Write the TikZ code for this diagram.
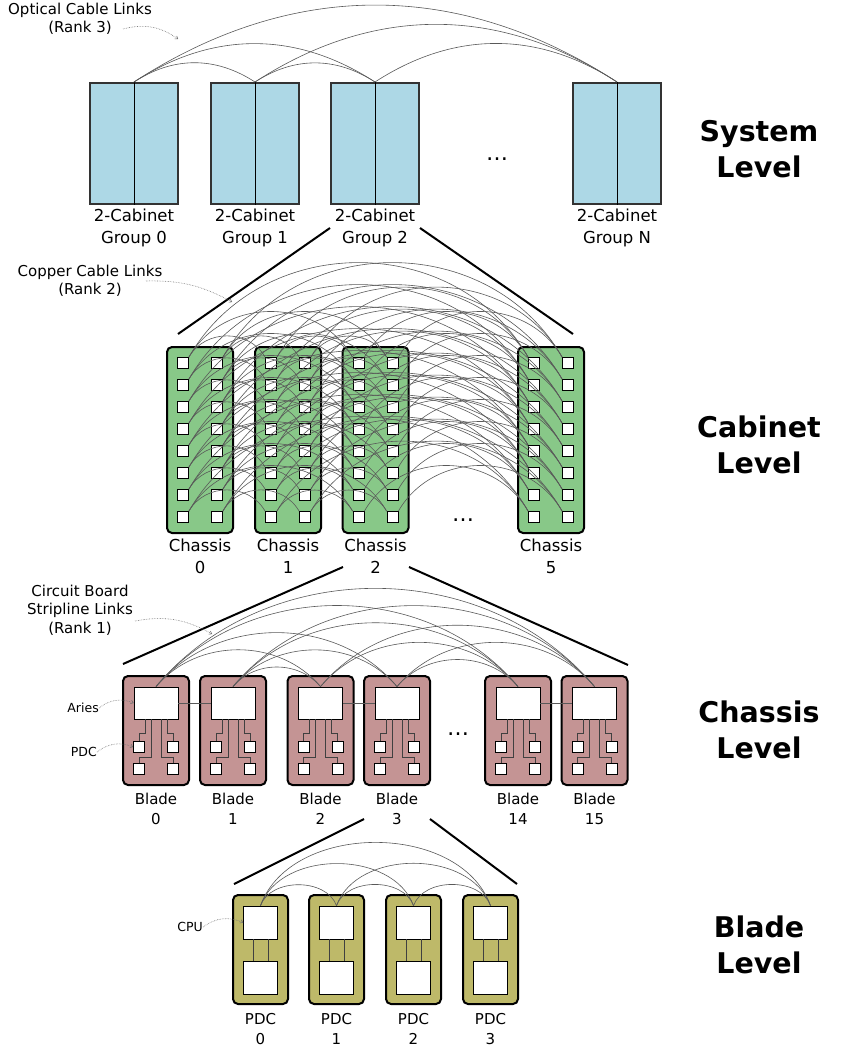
\documentclass[tikz,border=0pt]{standalone}
\usepackage{fontspec}
\setmainfont{DejaVu Sans}
\usepackage{tikz}
\usetikzlibrary{arrows.meta, positioning}
\definecolor{cabblue}{RGB}{173,216,230}
\definecolor{chgreen}{RGB}{136,200,136}
\definecolor{bladerose}{RGB}{196,148,148}
\definecolor{pdcolive}{RGB}{190,185,105}
\tikzstyle{cabgroup} = [rectangle, minimum width=88pt, minimum height=121pt, inner sep=0pt, draw=black!80, line width=2pt, fill=cabblue]
\tikzstyle{chassis} = [rectangle, rounded corners=5pt, minimum width=66pt, minimum height=186pt, inner sep=0pt, draw=black, line width=2pt, fill=chgreen]
\tikzstyle{port} = [rectangle, minimum size=11pt, inner sep=0pt, draw=black, line width=0.8pt, fill=white]
\tikzstyle{blade} = [rectangle, rounded corners=5pt, minimum width=66pt, minimum height=109pt, inner sep=0pt, draw=black, line width=2pt, fill=bladerose]
\tikzstyle{aries} = [rectangle, minimum width=44pt, minimum height=32pt, inner sep=0pt, draw=black, line width=0.8pt, fill=white]
\tikzstyle{pdc} = [rectangle, rounded corners=5pt, minimum width=55pt, minimum height=109pt, inner sep=0pt, draw=black, line width=2pt, fill=pdcolive]
\tikzstyle{cpu} = [rectangle, minimum width=34pt, minimum height=33pt, inner sep=0pt, draw=black, line width=0.8pt, fill=white]
\tikzstyle{unitname} = [align=center, inner sep=0pt, font=\fontsize{16.5}{22}\selectfont]
\tikzstyle{smallname} = [align=center, inner sep=0pt, font=\fontsize{15}{20}\selectfont]
\tikzstyle{levelname} = [align=center, font=\fontsize{28.5}{36}\selectfont\bfseries]
\tikzstyle{note} = [align=center, inner sep=0pt, font=\fontsize{15}{18.5}\selectfont]
\tikzstyle{tinynote} = [inner sep=0pt, font=\fontsize{12.5}{15}\selectfont]
\tikzstyle{dots} = [inner sep=0pt, font=\fontsize{22}{22}\selectfont]
\tikzstyle{link} = [draw=black!65, line width=0.6pt]
\tikzstyle{trace} = [draw=black!75, line width=0.6pt]
\tikzstyle{zoomline} = [line width=2pt]
\tikzstyle{pointer} = [densely dotted, draw=black!55, line width=0.6pt, -{To[length=3pt,width=4pt]}]

\begin{document}
\begin{tikzpicture}[x=1pt, y=-1pt]
    \useasboundingbox (0,0) rectangle (850,1046);

    % system level
    \node (grp0) [cabgroup] at (134,143.5) {};
    \node (grp1) [cabgroup] at (255,143.5) {};
    \node (grp2) [cabgroup] at (375,143.5) {};
    \node (grpN) [cabgroup] at (617,143.5) {};
    \foreach \g in {0,1,2,N} {
        \draw [line width=0.8pt] (grp\g.north) -- (grp\g.south);
        \node (grpname\g) [unitname, below=4pt of grp\g] {2-Cabinet\\Group \g};
    }
    \node (sysdots) [dots] at (497,159) {…};
    \node (syslevel) [levelname] at (759,149) {System\\Level};

    \foreach \i/\j in {0/1,0/2,0/N,1/2,1/N,2/N}
        \draw [link] (grp\i.north) to[bend left=33] (grp\j.north);

    \node (optnote) [note] at (80,19) {Optical Cable Links\\(Rank 3)};
    \coordinate (optfrom) at (123,29);
    \coordinate (optto) at (178,39);
    \draw [pointer] (optfrom) to[bend left=25] (optto);

    \coordinate (sysL) at (330,228);
    \coordinate (sysR) at (420,228);
    \coordinate (cabL) at (178,334);
    \coordinate (cabR) at (573,334);
    \draw [zoomline] (sysL) -- (cabL);
    \draw [zoomline] (sysR) -- (cabR);

    % cabinet level
    \foreach \c/\x in {0/200,1/288,2/375.5,5/551} {
        \node (ch\c) [chassis] at (\x,440) {};
        \node (chname\c) [unitname, below=5pt of ch\c] {Chassis\\\c};
        \foreach \r in {0,...,7} {
            \node (p\c-\r-a) [port] at (\x-17,363+22*\r) {};
            \node (p\c-\r-b) [port] at (\x+17,363+22*\r) {};
        }
    }
    \node (cabdots) [dots] at (463,520) {…};
    \node (cablevel) [levelname] at (759,445) {Cabinet\\Level};

    \foreach \r in {0,...,7}
        \foreach \s in {a,b}
            \foreach \i/\j in {0/1,0/2,0/5,1/2,1/5,2/5}
                \draw [link] (p\i-\r-\s.north east) to[bend left=60, looseness=1.1] (p\j-\r-\s.north west);

    \node (copnote) [note] at (90,281) {Copper Cable Links\\(Rank 2)};
    \coordinate (copfrom) at (146,281);
    \coordinate (copto) at (232,302);
    \draw [pointer] (copfrom) to[bend left=15] (copto);

    \coordinate (cabL2) at (343,567);
    \coordinate (cabR2) at (409,567);
    \coordinate (chaL) at (123,664);
    \coordinate (chaR) at (628,665);
    \draw [zoomline] (cabL2) -- (chaL);
    \draw [zoomline] (cabR2) -- (chaR);

    % chassis level
    \foreach \b/\x in {0/156,1/233,2/320.5,3/397,14/518,15/594.5} {
        \node (bl\b) [blade] at (\x,730.5) {};
        \node (ar\b) [aries] at (\x,703) {};
        \node (pd\b-1) [port] at (\x-17,747) {};
        \node (pd\b-2) [port] at (\x+17,747) {};
        \node (pd\b-3) [port] at (\x-17,769) {};
        \node (pd\b-4) [port] at (\x+17,769) {};
        \draw [trace] ([xshift=-11pt]ar\b.south) -- ++(0,14) -| (pd\b-1.north);
        \draw [trace] ([xshift=-5pt]ar\b.south) -- ++(0,38) -| (pd\b-3.north);
        \draw [trace] ([xshift=5pt]ar\b.south) -- ++(0,38) -| (pd\b-4.north);
        \draw [trace] ([xshift=11pt]ar\b.south) -- ++(0,14) -| (pd\b-2.north);
        \node (blname\b) [smallname, below=7pt of bl\b] {Blade\\\b};
    }
    \draw [link] (ar0.east) -- (ar1.west);
    \draw [link] (ar2.east) -- (ar3.west);
    \draw [link] (ar14.east) -- (ar15.west);
    \node (chadots) [dots] at (458,734) {…};
    \node (chalevel) [levelname] at (759,730) {Chassis\\Level};

    \foreach \i/\j in {0/2,0/3,0/14,0/15,1/2,1/3,1/14,1/15,2/14,2/15,3/14,3/15}
        \draw [link] (ar\i.north) to[bend left=50] (ar\j.north);

    \node (cbnote) [note] at (80,610) {Circuit Board\\Stripline Links\\(Rank 1)};
    \coordinate (cbfrom) at (135,621);
    \coordinate (cbto) at (212,634);
    \draw [pointer] (cbfrom) to[bend left=20] (cbto);
    \node (ariesnote) [tinynote, anchor=east] at (99,708) {Aries};
    \draw [pointer] (ariesnote.east) to[bend left=30] (ar0.west);
    \node (pdcnote) [tinynote, anchor=east] at (97,752) {PDC};
    \draw [pointer] (pdcnote.east) to[bend left=30] (pd0-1.west);

    \coordinate (chaL2) at (364,819);
    \coordinate (chaR2) at (430,819);
    \coordinate (bldL) at (234,884);
    \coordinate (bldR) at (517,884);
    \draw [zoomline] (chaL2) -- (bldL);
    \draw [zoomline] (chaR2) -- (bldR);

    % blade level
    \foreach \p/\x in {0/260.5,1/336.5,2/413.5,3/490.5} {
        \node (pdc\p) [pdc] at (\x,949.5) {};
        \node (cpuA\p) [cpu] at (\x,922.5) {};
        \node (cpuB\p) [cpu] at (\x,977.5) {};
        \draw [trace] ([xshift=-7.5pt]cpuA\p.south) -- ([xshift=-7.5pt]cpuB\p.north);
        \draw [trace] ([xshift=7.5pt]cpuA\p.south) -- ([xshift=7.5pt]cpuB\p.north);
        \node (pdcname\p) [smallname, below=8pt of pdc\p] {PDC\\\p};
    }
    \node (bldlevel) [levelname] at (759,945) {Blade\\Level};

    \foreach \i/\j in {0/1,0/2,0/3,1/2,1/3,2/3}
        \draw [link] (cpuA\i.north) to[bend left=70] (cpuA\j.north);

    \node (cpunote) [tinynote, anchor=east] at (203,927) {CPU};
    \draw [pointer] (cpunote.east) to[bend left=30] (cpuA0.west);
\end{tikzpicture}
\end{document}
